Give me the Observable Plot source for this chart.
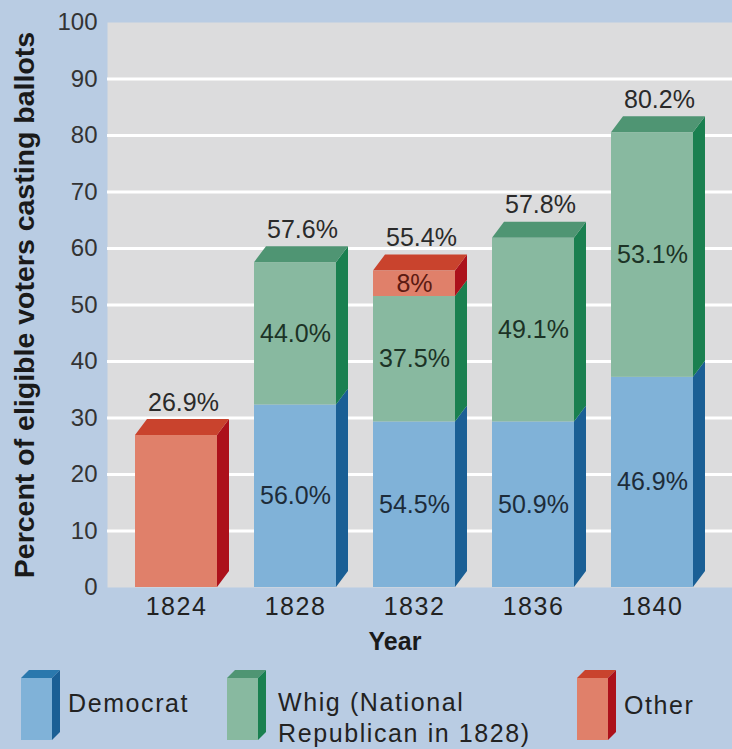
<!DOCTYPE html>
<html><head><meta charset="utf-8">
<script src="https://cdn.jsdelivr.net/npm/d3@7"></script>
<script src="https://cdn.jsdelivr.net/npm/@observablehq/plot@0.6"></script>
<style>
body{margin:0;background:#b9cce3;font-family:"Liberation Sans",Arial,Helvetica,sans-serif;}
#wrap{width:732px;height:749px;position:relative;overflow:hidden;background:#b9cce3;}
#legend{position:relative;width:732px;height:91px;}
.sw{position:absolute;top:12px;}
.lt{position:absolute;font-size:25px;color:#222;letter-spacing:1.6px;line-height:31px;white-space:nowrap;}
svg [aria-label="x-axis tick label"] text{letter-spacing:1.5px;}
</style></head><body>
<div id="wrap"><div id="chart"></div><div id="legend"></div></div>
<script>
// ---- data ----
const years = ["1824", "1828", "1832", "1836", "1840"];
const democratHeight = [0, 32.3, 29.3, 29.3, 37.2];
const whigHeight = [0, 25.2, 22.2, 32.5, 43.3];
const otherHeight = [26.9, 0, 4.5, 0, 0];
const democratLabels = [null, "56.0%", "54.5%", "50.9%", "46.9%"];
const whigLabels = [null, "44.0%", "37.5%", "49.1%", "53.1%"];
const otherLabels = [null, null, "8%", null, null];
const totalLabels = ["26.9%", "57.6%", "55.4%", "57.8%", "80.2%"];
const yTicks = [0, 10, 20, 30, 40, 50, 60, 70, 80, 90, 100];
const gridTicks = [10, 20, 30, 40, 50, 60, 70, 80, 90];
const parties = ["Democrat", "Whig", "Other"];
const yLabel = "Percent of eligible voters casting ballots";
const xLabel = "Year";

// ---- styles ----
const frontColor = {Democrat: "#80b2d8", Whig: "#88b9a0", Other: "#e0806a"};
const sideColor = {Democrat: "#1a5f95", Whig: "#1a8050", Other: "#ac111b"};
const topColor = {Democrat: "#2a78ad", Whig: "#4f9573", Other: "#c9432d"};
const labelColor = {Democrat: "#1d2c3a", Whig: "#1c3326", Other: "#5c1a12"};
const DX = 12, DY = 16;

const rows = [];
years.forEach((yr, i) => {
  const vals = {Democrat: democratHeight[i], Whig: whigHeight[i], Other: otherHeight[i]};
  const labs = {Democrat: democratLabels[i], Whig: whigLabels[i], Other: otherLabels[i]};
  parties.forEach(p => { if (vals[p] > 0) rows.push({year: yr, party: p, value: vals[p], label: labs[p]}); });
});
const totals = years.map((yr, i) => ({
  year: yr,
  total: democratHeight[i] + whigHeight[i] + otherHeight[i],
  label: totalLabels[i],
  top: otherHeight[i] > 0 ? "Other" : "Whig"
}));

const svgns = "http://www.w3.org/2000/svg";
function toPath(rect, dFn) {
  const x = +rect.getAttribute("x"), y = +rect.getAttribute("y");
  const w = +rect.getAttribute("width"), h = +rect.getAttribute("height");
  const p = document.createElementNS(svgns, "path");
  p.setAttribute("d", dFn(x, y, w, h));
  const f = rect.getAttribute("fill");
  if (f) p.setAttribute("fill", f);
  rect.replaceWith(p);
}
function sideRender(index, scales, values, dimensions, context, next) {
  const g = next(index, scales, values, dimensions, context);
  g.querySelectorAll("rect").forEach(r => toPath(r, (x, y, w, h) =>
    `M${x + w},${y + h}L${x + w},${y}L${x + w + DX},${y - DY}L${x + w + DX},${y + h - DY}Z`));
  return g;
}
function topRender(index, scales, values, dimensions, context, next) {
  const g = next(index, scales, values, dimensions, context);
  g.querySelectorAll("rect").forEach(r => toPath(r, (x, y, w, h) =>
    `M${x},${y}L${x + DX},${y - DY}L${x + w + DX},${y - DY}L${x + w},${y}Z`));
  return g;
}

const chart = Plot.plot({
  width: 732,
  height: 658,
  marginTop: 22,
  marginBottom: 71,
  marginLeft: 107,
  marginRight: 0,
  x: {type: "band", domain: years, paddingInner: 0.314, paddingOuter: 0.272, align: 0.415},
  y: {domain: [0, 100]},
  color: {type: "identity"},
  style: {background: "transparent", fontFamily: '"Liberation Sans", Arial, Helvetica, sans-serif', fontSize: "24px", color: "#333", overflow: "visible"},
  marks: [
    Plot.frame({fill: "#dcdcdd", stroke: null}),
    Plot.ruleY(gridTicks, {stroke: "#ffffff", strokeWidth: 3}),
    Plot.barY(rows, {x: "year", y: "value", z: "party", fill: d => sideColor[d.party], render: sideRender}),
    Plot.barY(totals, {x: "year", y: "total", fill: d => topColor[d.top], render: topRender}),
    Plot.barY(rows, {x: "year", y: "value", z: "party", fill: d => frontColor[d.party]}),
    Plot.text(rows, Plot.stackY({x: "year", y: "value", z: "party", text: "label", fill: d => labelColor[d.party], fontSize: 25, lineAnchor: "middle"})),
    Plot.text(totals, {x: "year", y: "total", text: "label", dy: -33, dx: 7, fontSize: 25, fill: "#2a2a2a", lineAnchor: "middle"}),
    Plot.axisY({ticks: yTicks, tickSize: 0, tickPadding: 10, fontSize: 24, label: null, fill: "#333"}),
    Plot.axisX({tickSize: 0, tickPadding: 10, fontSize: 25, label: null, fill: "#222"}),
    Plot.text([yLabel], {frameAnchor: "left", text: d => d, rotate: -90, dx: -83, fontSize: 28.5, fontWeight: "bold", fill: "#1a1a1a", textAnchor: "middle", lineAnchor: "middle"}),
    Plot.text([xLabel], {frameAnchor: "bottom", text: d => d, dx: -25, dy: 54, fontSize: 25, fontWeight: "bold", fill: "#1a1a1a", textAnchor: "middle", lineAnchor: "middle"})
  ]
});
document.getElementById("chart").appendChild(chart);

// ---- legend ----
function swatch(left, p) {
  return `<svg class="sw" style="left:${left}px" width="40" height="72">
    <polygon points="0,8 8,0 39,0 31,8" fill="${topColor[p]}"/>
    <rect x="0" y="8" width="31" height="62" fill="${frontColor[p]}"/>
    <polygon points="31,70 31,8 39,0 39,62" fill="${sideColor[p]}"/></svg>`;
}
const legendItems = [
  {party: "Democrat", sw: 21, tx: 68, ty: 30, text: "Democrat"},
  {party: "Whig", sw: 227, tx: 278, ty: 29, text: "Whig (National<br>Republican in 1828)"},
  {party: "Other", sw: 577, tx: 624, ty: 32, text: "Other"}
];
document.getElementById("legend").innerHTML = legendItems.map(it =>
  swatch(it.sw, it.party) + `<div class="lt" style="left:${it.tx}px;top:${it.ty}px">${it.text}</div>`
).join("");
</script>
</body></html>
